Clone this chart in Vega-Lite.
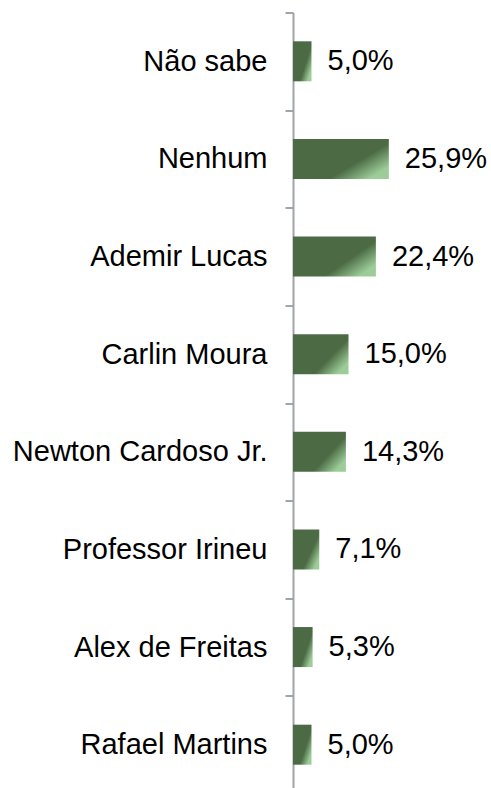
{
  "$schema": "https://vega.github.io/schema/vega-lite/v6.json",
  "autosize": "none",
  "padding": {"left": 293, "top": 12.5, "right": 87, "bottom": 0},
  "width": 111,
  "height": 781,
  "config": {
    "view": {"stroke": null},
    "locale": {"number": {"decimal": ",", "thousands": ".", "grouping": [3], "currency": ["R$", ""]}}
  },
  "data": {
    "values": [
      {"candidato": "Não sabe", "pct": 0.050},
      {"candidato": "Nenhum", "pct": 0.259},
      {"candidato": "Ademir Lucas", "pct": 0.224},
      {"candidato": "Carlin Moura", "pct": 0.150},
      {"candidato": "Newton Cardoso Jr.", "pct": 0.143},
      {"candidato": "Professor Irineu", "pct": 0.071},
      {"candidato": "Alex de Freitas", "pct": 0.053},
      {"candidato": "Rafael Martins", "pct": 0.050}
    ]
  },
  "encoding": {
    "y": {
      "field": "candidato",
      "type": "nominal",
      "sort": null,
      "scale": {"paddingInner": 0.59, "paddingOuter": 0.295},
      "axis": {
        "title": null,
        "tickBand": "center",
        "tickOffset": -48.8,
        "labelOffset": 48.8,
        "domainColor": "#a0a4ab",
        "domainWidth": 2,
        "tickColor": "#a0a4ab",
        "tickWidth": 2,
        "tickSize": 8,
        "labelFontSize": 29,
        "labelFont": "Liberation Sans",
        "labelColor": "#000000",
        "labelPadding": 18,
        "labelLimit": 400
      }
    },
    "x": {
      "field": "pct",
      "type": "quantitative",
      "scale": {"domain": [0, 0.3]},
      "axis": null
    }
  },
  "layer": [
    {
      "mark": {
        "type": "bar",
        "color": {
          "gradient": "linear",
          "x1": 0, "y1": 0, "x2": 1, "y2": 0.7,
          "stops": [
            {"offset": 0, "color": "#4c6b45"},
            {"offset": 0.72, "color": "#4c6b45"},
            {"offset": 1, "color": "#9ccc98"}
          ]
        }
      }
    },
    {
      "mark": {
        "type": "text",
        "align": "left",
        "baseline": "middle",
        "dx": 16,
        "fontSize": 29,
        "font": "Liberation Sans",
        "color": "#000000"
      },
      "encoding": {
        "text": {"field": "pct", "type": "quantitative", "format": ".1%"}
      }
    }
  ]
}
